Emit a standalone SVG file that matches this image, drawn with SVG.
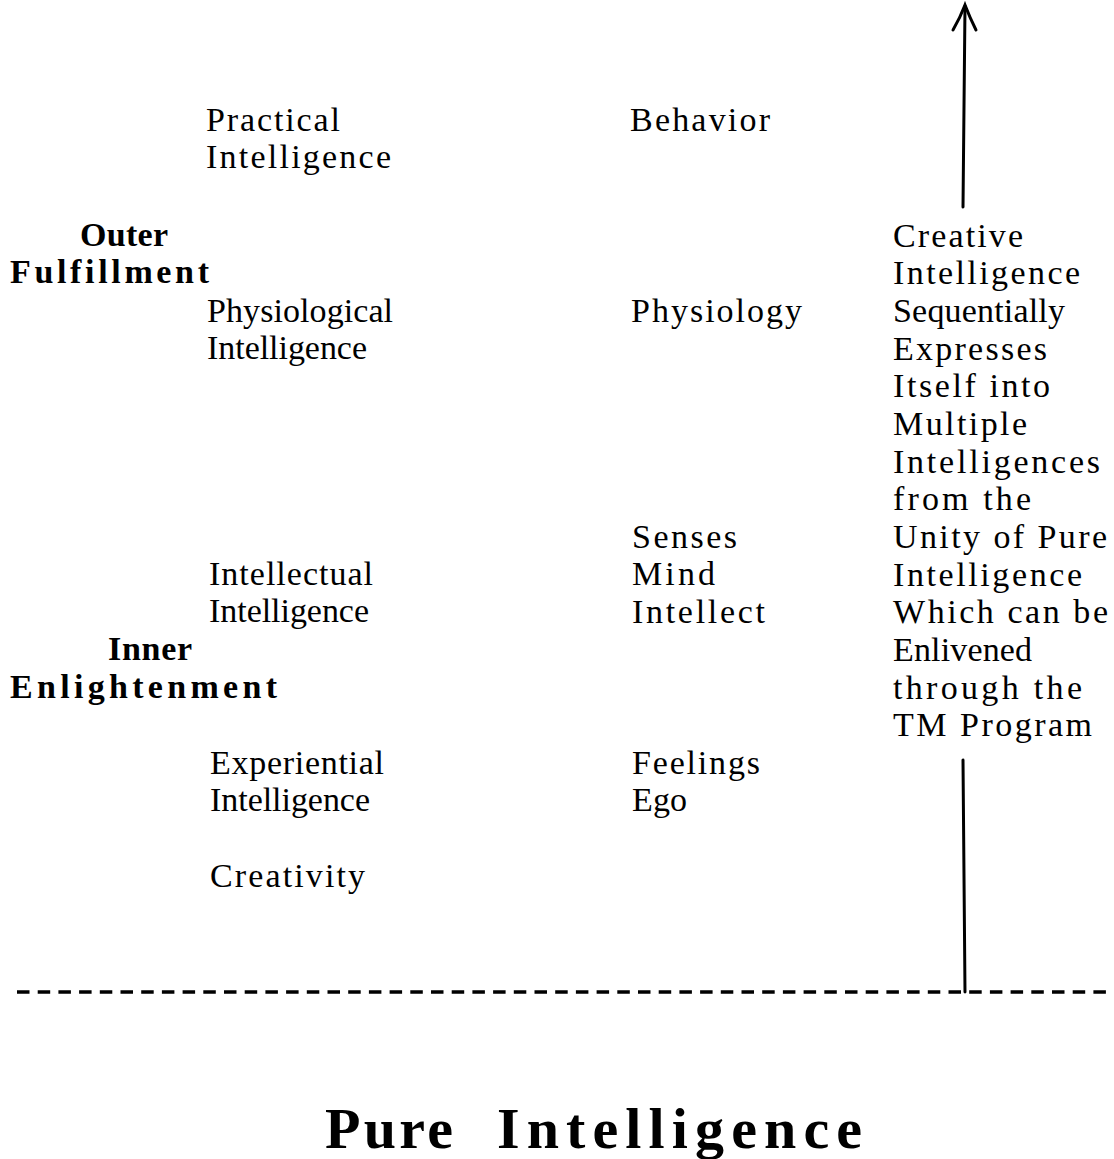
<svg xmlns="http://www.w3.org/2000/svg" width="1114" height="1159" viewBox="0 0 1114 1159">
<style>
text{font-family:"Liberation Serif","Times New Roman",serif;fill:#000}
.t{font-size:34px}
.b{font-size:34px;font-weight:bold}
.big{font-size:58px;font-weight:bold}
.ln{stroke:#000;stroke-width:3;fill:none;stroke-linecap:round}
.dash{stroke:#000;stroke-width:3.5;fill:none;stroke-dasharray:12.5 8.2}
</style>
<rect width="1114" height="1159" fill="#fff"/>
<g id="connectors">
<path class="ln" d="M963,207 L965,6"/>
<path class="ln" d="M953,30 Q960,18 965,5 Q970,18 976,30"/>
<path class="ln" d="M963,760 L965,992"/>
<path class="dash" d="M17,992 L1114,992"/>
</g>
<g id="practical">
<text class="t" x="206" y="131" textLength="134" lengthAdjust="spacing">Practical</text>
<text class="t" x="206" y="168" textLength="185" lengthAdjust="spacing">Intelligence</text>
</g>
<g id="behavior">
<text class="t" x="630" y="131" textLength="140" lengthAdjust="spacing">Behavior</text>
</g>
<g id="outer">
<text class="b" x="80" y="246" textLength="88" lengthAdjust="spacing">Outer</text>
<text class="b" x="10" y="283" textLength="199" lengthAdjust="spacing">Fulfillment</text>
</g>
<g id="physiological">
<text class="t" x="207" y="322" textLength="186" lengthAdjust="spacing">Physiological</text>
<text class="t" x="207" y="359" textLength="160" lengthAdjust="spacing">Intelligence</text>
</g>
<g id="physiology">
<text class="t" x="631" y="322" textLength="171" lengthAdjust="spacing">Physiology</text>
</g>
<g id="creative">
<text class="t" x="893" y="247" textLength="130" lengthAdjust="spacing">Creative</text>
<text class="t" x="893" y="284" textLength="187" lengthAdjust="spacing">Intelligence</text>
<text class="t" x="893" y="322" textLength="172" lengthAdjust="spacing">Sequentially</text>
<text class="t" x="893" y="360" textLength="154" lengthAdjust="spacing">Expresses</text>
<text class="t" x="893" y="397" textLength="157" lengthAdjust="spacing">Itself into</text>
<text class="t" x="893" y="435" textLength="134" lengthAdjust="spacing">Multiple</text>
<text class="t" x="893" y="473" textLength="207" lengthAdjust="spacing">Intelligences</text>
<text class="t" x="893" y="510" textLength="138" lengthAdjust="spacing">from the</text>
<text class="t" x="893" y="548" textLength="214" lengthAdjust="spacing">Unity of Pure</text>
<text class="t" x="893" y="586" textLength="189" lengthAdjust="spacing">Intelligence</text>
<text class="t" x="893" y="623" textLength="215" lengthAdjust="spacing">Which can be</text>
<text class="t" x="893" y="661" textLength="139" lengthAdjust="spacing">Enlivened</text>
<text class="t" x="893" y="699" textLength="189" lengthAdjust="spacing">through the</text>
<text class="t" x="893" y="736" textLength="199" lengthAdjust="spacing">TM Program</text>
</g>
<g id="senses">
<text class="t" x="632" y="548" textLength="105" lengthAdjust="spacing">Senses</text>
<text class="t" x="632" y="585" textLength="83" lengthAdjust="spacing">Mind</text>
<text class="t" x="632" y="623" textLength="133" lengthAdjust="spacing">Intellect</text>
</g>
<g id="intellectual">
<text class="t" x="209" y="585" textLength="164" lengthAdjust="spacing">Intellectual</text>
<text class="t" x="209" y="622" textLength="160" lengthAdjust="spacing">Intelligence</text>
</g>
<g id="inner">
<text class="b" x="108" y="660" textLength="84" lengthAdjust="spacing">Inner</text>
<text class="b" x="10" y="698" textLength="267" lengthAdjust="spacing">Enlightenment</text>
</g>
<g id="experiential">
<text class="t" x="210" y="774" textLength="174" lengthAdjust="spacing">Experiential</text>
<text class="t" x="210" y="811" textLength="160" lengthAdjust="spacing">Intelligence</text>
</g>
<g id="feelings">
<text class="t" x="632" y="774" textLength="128" lengthAdjust="spacing">Feelings</text>
<text class="t" x="632" y="811" textLength="55" lengthAdjust="spacing">Ego</text>
</g>
<g id="creativity">
<text class="t" x="210" y="887" textLength="155" lengthAdjust="spacing">Creativity</text>
</g>
<g id="pure">
<text class="big" x="325" y="1148" textLength="128" lengthAdjust="spacing">Pure</text>
<text class="big" x="497" y="1148" textLength="365" lengthAdjust="spacing">Intelligence</text>
</g>
</svg>
